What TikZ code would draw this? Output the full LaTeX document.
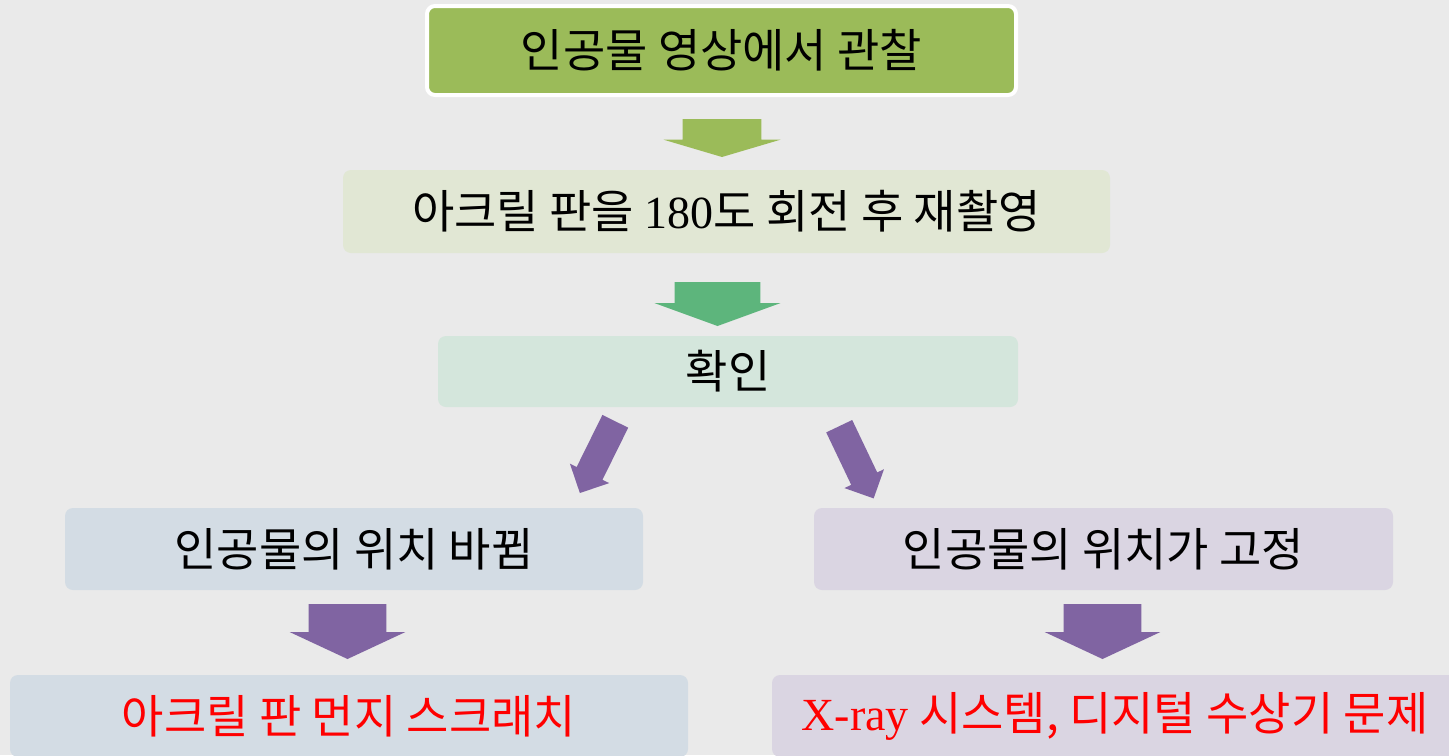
\documentclass[tikz,border=0pt]{standalone}
\usepackage{fontspec}
\setmainfont{Noto Sans CJK KR}
\newfontfamily\serifnum{Liberation Serif}
\usetikzlibrary{shapes.arrows}
\definecolor{bggray}{HTML}{EAEAEA}
\definecolor{olivegreen}{HTML}{9BBB59}
\definecolor{olivelight}{HTML}{E1E7D4}
\definecolor{mintgreen}{HTML}{5DB57C}
\definecolor{mintlight}{HTML}{D4E6DC}
\definecolor{plum}{HTML}{8064A2}
\definecolor{steellight}{HTML}{D3DCE4}
\definecolor{plumlight}{HTML}{DAD5E2}
\definecolor{warnred}{HTML}{FF0000}
\tikzset{
  stepbox/.style={rounded corners=4pt, inner sep=0pt, minimum height=41pt,
    font=\fontsize{23}{28}\selectfont},
  blockarr/.style={single arrow, anchor=tail, inner xsep=0pt, outer sep=0pt},
}
\begin{document}
\begin{tikzpicture}[x=0.5pt,y=-0.5pt]
    \clip (0,0) rectangle (1449,755);
    \fill[bggray] (0,0) rectangle (1449,755);
    % boxes
    \node[stepbox, fill=olivegreen, draw=white, line width=2pt, minimum width=294.5pt, minimum height=44.5pt] (obs) at (721.5,50.5) {인공물 영상에서 관찰};
    \node[stepbox, fill=olivelight, minimum width=383.5pt, minimum height=41.5pt] (rot) at (726.5,211.5) {아크릴 판을 {\serifnum 180}도 회전 후 재촬영};
    \node[stepbox, fill=mintlight, minimum width=290pt, minimum height=35.5pt] (chk) at (728,371.5) {확인};
    \node[stepbox, fill=steellight, minimum width=289pt] (moved) at (354,549) {인공물의 위치 바뀜};
    \node[stepbox, fill=plumlight, minimum width=289.5pt] (fixed) at (1103.5,549) {인공물의 위치가 고정};
    \node[stepbox, fill=steellight, text=warnred, minimum width=339pt] (dust) at (349,716) {아크릴 판 먼지 스크래치};
    \node[stepbox, fill=plumlight, text=warnred, minimum width=343pt] (sysfault) at (1115,716) {{\serifnum X-ray} 시스템, 디지털 수상기 문제};
    % arrows
    \node[blockarr, fill=olivegreen, rotate=-90, minimum height=19pt, inner ysep=19.5pt,
      single arrow head extend=9.5pt, single arrow tip angle=147] (a1) at (722,119) {};
    \node[blockarr, fill=mintgreen, rotate=-90, minimum height=22pt, inner ysep=21.25pt,
      single arrow head extend=10pt, single arrow tip angle=140] (a2) at (717.5,282) {};
    \node[blockarr, fill=plum, rotate=243.7, minimum height=40pt, inner ysep=7pt,
      single arrow head extend=3.75pt, single arrow tip angle=90] (a3) at (615.3,421.3) {};
    \node[blockarr, fill=plum, rotate=-64.5, minimum height=40pt, inner ysep=7pt,
      single arrow head extend=3.75pt, single arrow tip angle=90] (a4) at (839.2,426.2) {};
    \node[blockarr, fill=plum, rotate=-90, minimum height=27.5pt, inner ysep=19.25pt,
      single arrow head extend=9.5pt, single arrow tip angle=130] (a5) at (347.5,604) {};
    \node[blockarr, fill=plum, rotate=-90, minimum height=27.5pt, inner ysep=19.25pt,
      single arrow head extend=9.5pt, single arrow tip angle=130] (a6) at (1102.5,604) {};
\end{tikzpicture}
\end{document}
